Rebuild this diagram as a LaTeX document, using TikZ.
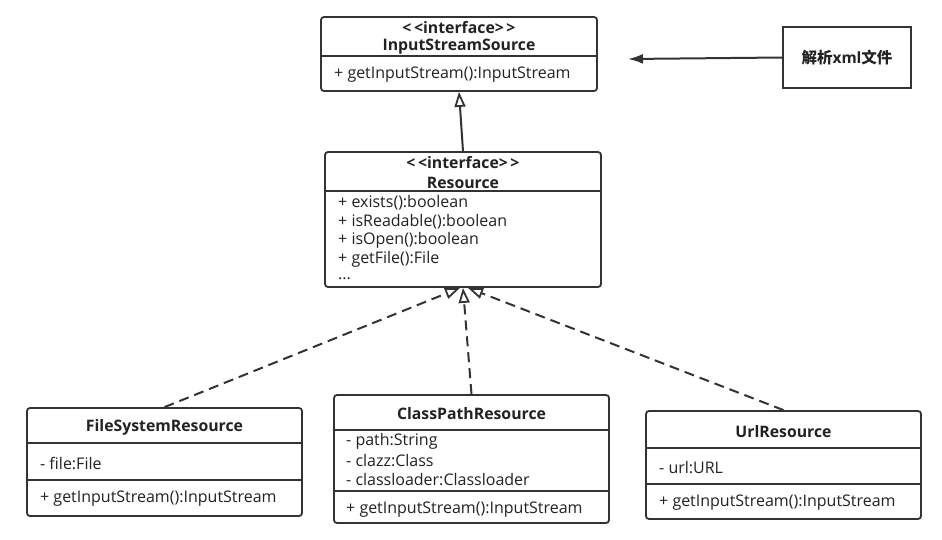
\documentclass[tikz,border=0pt]{standalone}
\usepackage{fontspec}
\setmainfont{Open Sans}
\newfontfamily\cjk{Noto Sans CJK SC}
\usetikzlibrary{arrows.meta}
\definecolor{ink}{HTML}{333333}
\definecolor{txt}{HTML}{222222}
\tikzset{
  cls/.style={draw=ink, line width=1.8pt, rounded corners=3pt, fill=white, inner sep=0pt},
  sep/.style={draw=ink, line width=1.5pt},
  ttl/.style={font=\fontsize{15.8}{18}\selectfont\bfseries, text=txt, inner sep=0pt, yshift=-1.5pt},
  mem/.style={font=\fontsize{16}{18}\selectfont, text=txt, anchor=west, inner sep=0pt, yshift=-1.5pt},
  realize/.style={draw=ink, line width=2pt, dash pattern=on 10pt off 6pt, -{Triangle[open, length=15pt, width=11pt, line width=1.8pt]}},
  inherit/.style={draw=ink, line width=2pt, -{Triangle[open, length=15pt, width=11pt, line width=1.8pt]}},
}
\begin{document}
\begin{tikzpicture}[x=1pt,y=-1pt]
\useasboundingbox (0,0) rectangle (942,539);
% InputStreamSource
\node[cls, minimum width=276pt, minimum height=74pt] (iss) at (459,54) {};
\draw[sep] (321,56) -- (597,56);
\node[ttl] (issst) at (459,26) {<\,<interface>\,>};
\node[ttl] (issn) at (459,45) {InputStreamSource};
\node[mem] (issm) at (334,73) {+ getInputStream():InputStream};
% Resource
\node[cls, minimum width=276pt, minimum height=135pt] (res) at (463,219.5) {};
\draw[sep] (325,191) -- (601,191);
\node[ttl] (resst) at (463,161) {<\,<interface>\,>};
\node[ttl] (resn) at (463,181) {Resource};
\node[mem] (r1) at (338,201) {+ exists():boolean};
\node[mem] (r2) at (338,220) {+ isReadable():boolean};
\node[mem] (r3) at (338,239) {+ isOpen():boolean};
\node[mem] (r4) at (338,258) {+ getFile():File};
\node[mem] (r5) at (338,277) {...};
% FileSystemResource
\node[cls, minimum width=275pt, minimum height=108pt] (fsr) at (164.5,462) {};
\draw[sep] (27,443) -- (302,443);
\draw[sep] (27,480) -- (302,480);
\node[ttl] (fsrn) at (164.5,426) {FileSystemResource};
\node[mem] (f1) at (40,462) {- file:File};
\node[mem] (f2) at (40,497) {+ getInputStream():InputStream};
% ClassPathResource
\node[cls, minimum width=275pt, minimum height=128pt] (cpr) at (471.5,459) {};
\draw[sep] (334,430) -- (609,430);
\draw[sep] (334,491) -- (609,491);
\node[ttl] (cprn) at (471.5,412) {ClassPathResource};
\node[mem] (c1) at (346,440) {- path:String};
\node[mem] (c2) at (346,459) {- clazz:Class};
\node[mem] (c3) at (346,478) {- classloader:Classloader};
\node[mem] (c4) at (346,508) {+ getInputStream():InputStream};
% UrlResource
\node[cls, minimum width=275pt, minimum height=108pt] (url) at (783.5,465) {};
\draw[sep] (646,448) -- (921,448);
\draw[sep] (646,484) -- (921,484);
\node[ttl] (urln) at (783.5,430) {UrlResource};
\node[mem] (u1) at (659,466) {- url:URL};
\node[mem] (u2) at (659,501) {+ getInputStream():InputStream};
% xml box
\node[draw=ink, line width=2pt, minimum width=128pt, minimum height=61pt, inner sep=0pt, font=\fontsize{15.5}{18}\selectfont\bfseries, text=txt] (xml) at (847,57.5) {{\cjk 解析}xml{\cjk 文件}};
\coordinate (xmlend) at (628,59);
% connectors
\draw[inherit] (res.north) -- (iss.south);
\draw[realize] (fsr.north) -- ([xshift=-3pt]res.south);
\draw[realize] (cpr.north) -- (res.south);
\draw[realize] (url.north) -- ([xshift=5pt]res.south);
\draw[draw=ink, line width=2pt, -{Latex[length=15pt, width=10pt]}] (xml.west) -- (xmlend);
\end{tikzpicture}
\end{document}
